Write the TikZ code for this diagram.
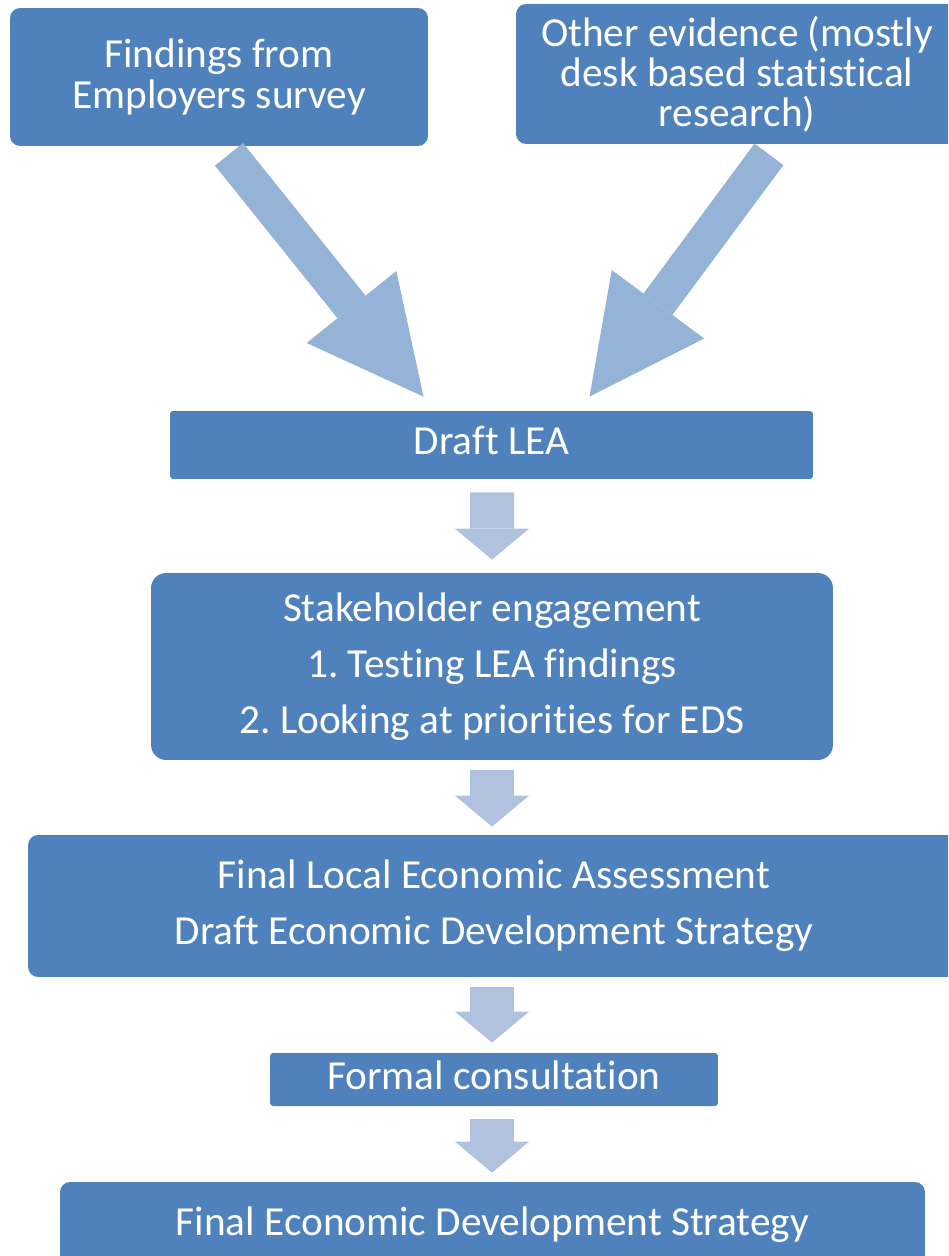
\documentclass[tikz,border=0pt]{standalone}
\usepackage{fontspec}
\setmainfont{Carlito}[Ligatures=NoCommon]
\usetikzlibrary{arrows.meta,calc}
\definecolor{boxblue}{HTML}{4F81BD}
\definecolor{bigblue}{HTML}{95B3D7}
\definecolor{smallblue}{HTML}{B0C2DE}
\newcommand{\boxfont}{\fontsize{23.5}{22.8}\selectfont}
\newcommand{\listfont}{\fontsize{23.5}{31.9}\selectfont}
\frenchspacing

\begin{document}
\begin{tikzpicture}[x=0.02cm, y=-0.02cm,
    box/.style={fill=boxblue, text=white, inner sep=0pt, align=center, rounded corners=0.2cm},
    oneline/.style={box, font=\boxfont, text height=0.6cm, text depth=0.2cm},
    bigarrow/.style={draw=bigblue, line width=0.72cm, -{Triangle[width=2.3cm, length=2.3cm, line width=0pt]}},
    smallarrow/.style={draw=smallblue, line width=0.88cm, -{Triangle[width=1.48cm, length=0.62cm, line width=0pt]}}]
      \clip (0,0) rectangle (948,1256);
      %nodes
      \node[box, font=\boxfont, minimum width=8.36cm, minimum height=2.76cm] (survey) at (219,77) {Findings from\\Employers survey};
      \node[box, font=\boxfont, minimum width=8.84cm, minimum height=2.8cm] (evidence) at (737,74) {Other evidence (mostly\\desk based statistical\\research)};
      \node[oneline, rounded corners=0.06cm, minimum width=12.86cm, minimum height=1.36cm] (draft) at (491.5,445) {Draft LEA};
      \node[box, font=\listfont, rounded corners=0.3cm, minimum width=13.64cm, minimum height=3.74cm] (stake) at (492,666.5) {Stakeholder engagement\\1. Testing LEA findings\\2. Looking at priorities for EDS};
      \node[box, font=\listfont, minimum width=18.64cm, minimum height=2.84cm] (finallea) at (494,906) {Final Local Economic Assessment\\Draft Economic Development Strategy};
      \node[oneline, rounded corners=0.06cm, minimum width=8.96cm, minimum height=1.06cm] (formal) at (494,1079.5) {Formal consultation};
      \node[oneline, minimum width=17.3cm, minimum height=1.72cm] (eds) at (492.5,1225) {Final Economic Development Strategy};
      %edges
      \draw[bigarrow] ($(survey.south)+(10,8)$) -- ($(draft.north)+(-68,-14)$);
      \draw[bigarrow] ($(evidence.south)+(32,10)$) -- ($(draft.north)+(98,-14)$);
      \draw[smallarrow] ($(draft.south)+(0.5,13)$) -- ($(stake.north)+(0,-13)$);
      \draw[smallarrow] ($(stake.south)+(0,10)$) -- ($(stake.south |- finallea.north)+(0,-8)$);
      \draw[smallarrow] ($(stake.south |- finallea.south)+(0,10)$) -- ($(stake.south |- formal.north)+(0,-10)$);
      \draw[smallarrow] ($(stake.south |- formal.south)+(0,13)$) -- ($(stake.south |- eds.north)+(0,-9)$);
    \end{tikzpicture}
\end{document}
